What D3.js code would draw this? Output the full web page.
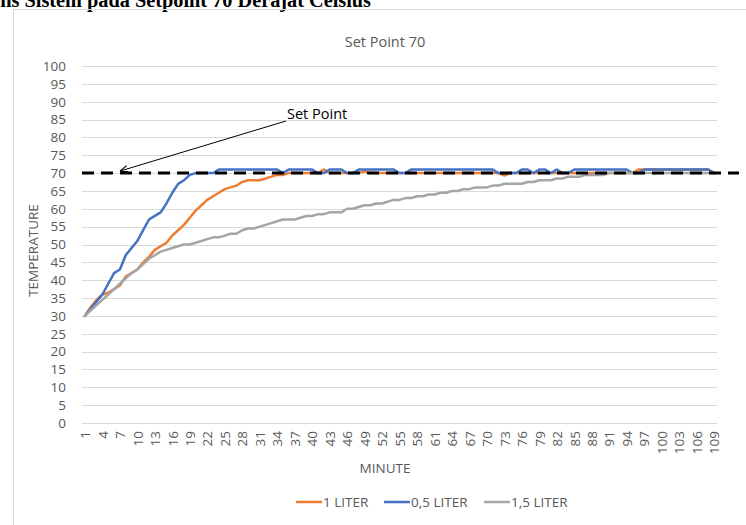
<!DOCTYPE html>
<html>
<head>
<meta charset="utf-8">
<script src="https://cdn.jsdelivr.net/npm/d3@7"></script>
<style>
  html, body { margin: 0; padding: 0; background: #fff; }
  svg { display: block; }
</style>
</head>
<body>
<svg id="chart" width="746" height="525"></svg>
<script>
// ---------- DATA ----------
const minutes = d3.range(1, 110);
const seriesNames = ["1 LITER", "0,5 LITER", "1,5 LITER"];
const seriesColors = ["#ED7D31", "#4472C4", "#A5A5A5"];

const liter1 = [
  30, 32.5, 34.5, 36, 36.5, 37.5, 38.5, 41, 42, 43,
  45, 46.5, 48.5, 49.5, 50.5, 52.5, 54, 55.5, 57.5, 59.5,
  61, 62.5, 63.5, 64.5, 65.5, 66, 66.5, 67.5, 68, 68,
  68, 68.5, 69, 69.5, 69.5, 70, 70, 70, 70, 70,
  70, 71, 70, 70, 70, 70, 70, 70, 70.5, 70,
  70, 70, 70, 70, 70, 70, 70, 70, 70, 70,
  70, 70, 70, 70, 70, 70, 70, 70, 70, 70,
  70, 70, 69.3, 70, 70, 70, 70, 70, 70, 70,
  70, 70, 70, 70, 70, 70, 70, 70, 70, 70,
  70, 70, 70, 70, 70, 71, 71, 71, 71, 71,
  71, 71, 71, 71, 71, 71, 71, 71, 70
];
const liter05 = [
  30, 32, 34, 36, 39, 42, 43, 47, 49, 51,
  54, 57, 58, 59, 61.5, 64.5, 67, 68, 69.5, 70,
  70, 70, 70, 71, 71, 71, 71, 71, 71, 71,
  71, 71, 71, 71, 70, 71, 71, 71, 71, 71,
  70, 70, 71, 71, 71, 70, 70, 71, 71, 71,
  71, 71, 71, 71, 70, 70, 71, 71, 71, 71,
  71, 71, 71, 71, 71, 71, 71, 71, 71, 71,
  71, 70, 70, 70, 70, 71, 71, 70, 71, 71,
  70, 71, 70, 70, 71, 71, 71, 71, 71, 71,
  71, 71, 71, 71, 70, 70, 71, 71, 71, 71,
  71, 71, 71, 71, 71, 71, 71, 71, 70
];
const liter15 = [
  30, 31.5, 33, 34.5, 36, 37.5, 39, 40.5, 42, 43,
  44.5, 46, 47, 48, 48.5, 49, 49.5, 50, 50, 50.5,
  51, 51.5, 52, 52, 52.5, 53, 53, 54, 54.5, 54.5,
  55, 55.5, 56, 56.5, 57, 57, 57, 57.5, 58, 58,
  58.5, 58.5, 59, 59, 59, 60, 60, 60.5, 61, 61,
  61.5, 61.5, 62, 62.5, 62.5, 63, 63, 63.5, 63.5, 64,
  64, 64.5, 64.5, 65, 65, 65.5, 65.5, 66, 66, 66,
  66.5, 66.5, 67, 67, 67, 67, 67.5, 67.5, 68, 68,
  68, 68.5, 68.5, 69, 69, 69, 69.5, 69.5, 69.5, 69.5,
  70, 70, 70, 70, 70, 70, 70, 70, 70, 70,
  70, 70, 70, 70, 70, 70, 70, 70, 70
];
const seriesValues = [liter1, liter05, liter15];

const yTicks = d3.range(0, 101, 5);
const xTickLabels = minutes.filter(m => (m - 1) % 3 === 0);
const setPoint = 70;

const chartTitle = "Set Point 70";
const xAxisTitle = "MINUTE";
const yAxisTitle = "TEMPERATURE";
const annotationText = "Set Point";
const docTitle = "Gambar 4. Respons Sistem pada Setpoint 70 Derajat Celsius";

// ---------- LAYOUT ----------
const svg = d3.select("#chart");
const font = "'Open Sans', 'Noto Sans', sans-serif";
const textColor = "#595959";
const plot = { left: 82, right: 717, top: 66, bottom: 423 };

const x = d3.scalePoint().domain(minutes).range([plot.left, plot.right]).padding(0.5);
const y = d3.scaleLinear().domain([0, 100]).range([plot.bottom, plot.top]);

// document title (cropped at top, as in the reference)
svg.append("text")
  .attr("x", 371).attr("y", 7)
  .attr("text-anchor", "end")
  .attr("font-family", "'Liberation Serif', serif")
  .attr("font-weight", "bold")
  .attr("font-size", 20.3)
  .attr("fill", "#000")
  .text(docTitle);

// chart frame
svg.append("rect")
  .attr("x", 13.5).attr("y", 9.5)
  .attr("width", 760).attr("height", 540)
  .attr("fill", "none")
  .attr("stroke", "#d9d9d9").attr("stroke-width", 1);

// chart title
svg.append("text")
  .attr("x", 385).attr("y", 47)
  .attr("text-anchor", "middle")
  .attr("font-family", font).attr("font-size", 14.5)
  .attr("fill", textColor)
  .text(chartTitle);

// gridlines
svg.append("g").selectAll("line").data(yTicks).join("line")
  .attr("x1", plot.left).attr("x2", plot.right)
  .attr("y1", d => Math.round(y(d)) + 0.5).attr("y2", d => Math.round(y(d)) + 0.5)
  .attr("stroke", "#d9d9d9").attr("stroke-width", 1);

// y axis labels
const yAxis = d3.axisLeft(y).tickValues(yTicks).tickSize(0).tickPadding(0);
const gy = svg.append("g").attr("transform", `translate(${plot.left - 16},0)`).call(yAxis);
gy.select(".domain").remove();
gy.selectAll("text")
  .attr("font-family", font).attr("font-size", 13.5)
  .attr("fill", textColor);

// x axis labels
const xAxis = d3.axisBottom(x).tickValues(xTickLabels).tickSize(0).tickPadding(0);
const gx = svg.append("g").attr("transform", `translate(0,${plot.bottom + 8})`).call(xAxis);
gx.select(".domain").remove();
gx.selectAll("text")
  .attr("font-family", font).attr("font-size", 13.5)
  .attr("fill", textColor)
  .attr("transform", "rotate(-90)")
  .attr("text-anchor", "end")
  .attr("x", 0).attr("y", 0)
  .attr("dy", "0.35em");

// axis titles
svg.append("text")
  .attr("x", 385).attr("y", 473)
  .attr("text-anchor", "middle")
  .attr("font-family", font).attr("font-size", 13.5)
  .attr("fill", textColor)
  .text(xAxisTitle);

svg.append("text")
  .attr("transform", `translate(38,${(plot.top + plot.bottom) / 2 + 6}) rotate(-90)`)
  .attr("text-anchor", "middle")
  .attr("font-family", font).attr("font-size", 13.5)
  .attr("fill", textColor)
  .text(yAxisTitle);

// series lines
const line = d3.line().x((d, i) => x(minutes[i])).y(d => y(d));
seriesValues.forEach((vals, k) => {
  svg.append("path")
    .datum(vals)
    .attr("d", line)
    .attr("fill", "none")
    .attr("stroke", seriesColors[k])
    .attr("stroke-width", 2.5)
    .attr("stroke-linejoin", "round")
    .attr("stroke-linecap", "round");
});

// set point dashed line
svg.append("line")
  .attr("x1", plot.left).attr("x2", 739)
  .attr("y1", y(setPoint)).attr("y2", y(setPoint))
  .attr("stroke", "#000").attr("stroke-width", 3)
  .attr("stroke-dasharray", "12,7");

// annotation arrow
svg.append("defs").append("marker")
  .attr("id", "arrow")
  .attr("viewBox", "0 0 10 10")
  .attr("refX", 10).attr("refY", 5)
  .attr("markerWidth", 8).attr("markerHeight", 8)
  .attr("orient", "auto")
  .append("path")
  .attr("d", "M0,1 L10,5 L0,9")
  .attr("fill", "none").attr("stroke", "#000").attr("stroke-width", 1.3);

svg.append("line")
  .attr("x1", 286).attr("y1", 121)
  .attr("x2", x(7)).attr("y2", y(setPoint) - 2)
  .attr("stroke", "#000").attr("stroke-width", 1)
  .attr("marker-end", "url(#arrow)");

svg.append("text")
  .attr("x", 287).attr("y", 119)
  .attr("font-family", font).attr("font-size", 14.5)
  .attr("fill", "#000")
  .text(annotationText);

// legend
const legendItems = [
  { name: seriesNames[0], color: seriesColors[0], x: 296 },
  { name: seriesNames[1], color: seriesColors[1], x: 384 },
  { name: seriesNames[2], color: seriesColors[2], x: 484 }
];
const lg = svg.append("g").selectAll("g").data(legendItems).join("g")
  .attr("transform", d => `translate(${d.x},502)`);
lg.append("line")
  .attr("x1", 0).attr("x2", 26).attr("y1", 0).attr("y2", 0)
  .attr("stroke", d => d.color).attr("stroke-width", 2.5);
lg.append("text")
  .attr("x", 27).attr("y", 0).attr("dy", "0.35em")
  .attr("font-family", font).attr("font-size", 13.5)
  .attr("fill", textColor)
  .text(d => d.name);
</script>
</body>
</html>
